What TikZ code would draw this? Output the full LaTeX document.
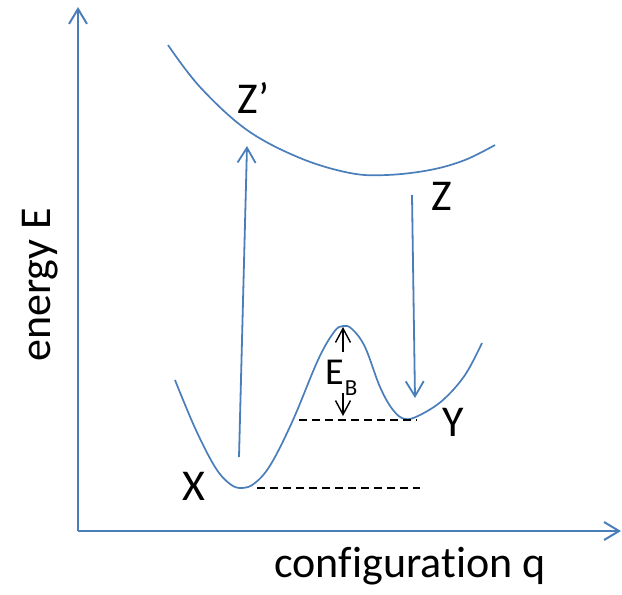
\documentclass[tikz,border=0pt]{standalone}
\usepackage{fontspec}
\setmainfont[Ligatures=NoCommon]{Carlito}
\usetikzlibrary{arrows.meta}
\definecolor{curveblue}{HTML}{4A7EBB}
\tikzset{
  axisline/.style={draw=curveblue,line width=2pt,-{Straight Barb[length=15pt,width=18pt,line width=2pt]}},
  transarrow/.style={draw=curveblue,line width=1.8pt,-{Straight Barb[length=15pt,width=18pt,line width=1.8pt]}},
  curve/.style={draw=curveblue,line width=1.7pt,smooth,tension=0.6},
  levelline/.style={draw=black,line width=1.5pt,dash pattern=on 8pt off 5pt},
  barrarrow/.style={draw=black,line width=1.4pt,-{Straight Barb[length=14pt,width=15pt,line width=1.4pt]}},
  lbl/.style={inner sep=0pt,anchor=base west,font=\fontsize{44}{50}\selectfont}
}
\begin{document}
\begin{tikzpicture}[x=1pt,y=-1pt]
\useasboundingbox (0,0) rectangle (622,595);
% axes
\coordinate (origin) at (78,531);
\coordinate (ytop) at (78,7);
\coordinate (xend) at (621,531);
\draw[axisline] (origin) -- (ytop);
\draw[axisline] (origin) -- (xend);
\node[inner sep=0pt,anchor=base,rotate=90,font=\fontsize{44}{50}\selectfont] (elabel) at (50,285) {energy E};
\node[inner sep=0pt,anchor=base,font=\fontsize{44}{50}\selectfont] (qlabel) at (410,577) {configuration q};
% ground state curve
\draw[curve] plot coordinates {(175,380) (195,428) (215,467) (230,484) (242,488) (255,483) (271,464) (293,420) (318,360) (334,332) (343,326) (352,329) (365,347) (380,387) (393,410) (405,419) (420,415) (443,400) (465,375) (482,343)};
% excited state curve
\draw[curve] plot coordinates {(168,45) (200,87) (247,130) (300,158) (350,173) (387,175) (430,170) (465,160) (495,145)};
% transitions
\coordinate (absstart) at (239,457);
\coordinate (absend) at (247,146);
\draw[transarrow] (absstart) -- (absend);
\coordinate (emstart) at (412,195);
\coordinate (emend) at (415,398);
\draw[transarrow] (emstart) -- (emend);
% level lines
\coordinate (xa) at (257,488);
\coordinate (xb) at (420,488);
\draw[levelline] (xa) -- (xb);
\coordinate (ya) at (299,420);
\coordinate (yb) at (417,420);
\draw[levelline] (ya) -- (yb);
% barrier arrows
\coordinate (ebup0) at (343,352);
\coordinate (ebup1) at (343,327);
\draw[barrarrow] (ebup0) -- (ebup1);
\coordinate (ebdn0) at (343,393);
\coordinate (ebdn1) at (343,416);
\draw[barrarrow] (ebdn0) -- (ebdn1);
% labels
\node[lbl] (X) at (182,500) {X};
\node[lbl] (Y) at (442,436) {Y};
\node[lbl] (Z) at (431,210) {Z};
\node[lbl] (Zp) at (237,113) {Z’};
\node[inner sep=0pt,anchor=base west,font=\fontsize{38}{44}\selectfont] (EB) at (325,384) {E\kern1pt\raisebox{-11pt}{\fontsize{23}{28}\selectfont B}};
\end{tikzpicture}
\end{document}
